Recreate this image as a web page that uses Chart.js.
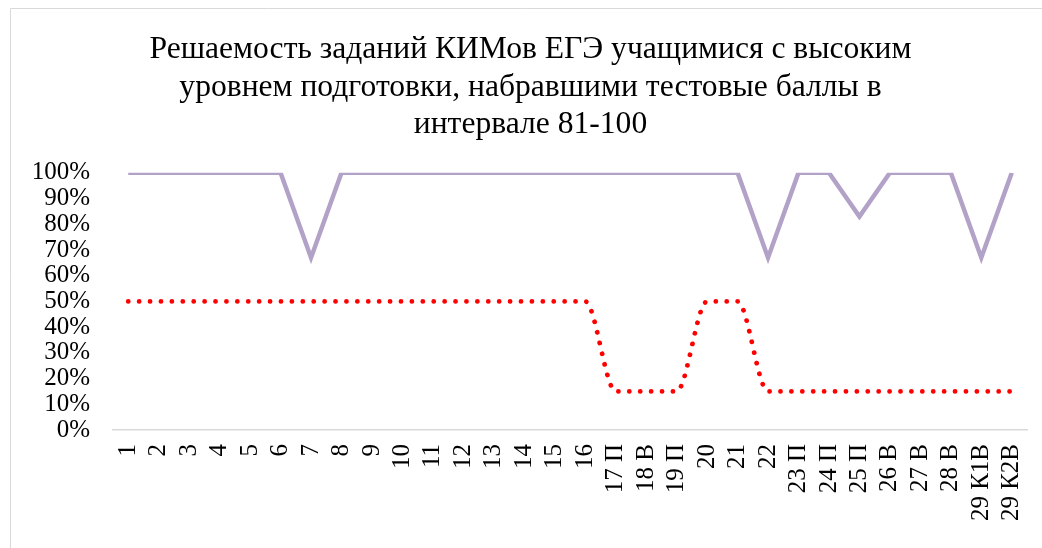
<!DOCTYPE html>
<html>
<head>
<meta charset="utf-8">
<script src="https://cdn.jsdelivr.net/npm/chart.js@4/dist/chart.umd.min.js"></script>
<style>
  html, body { margin: 0; padding: 0; background: #ffffff; }
  #wrap { width: 1042px; height: 548px; position: relative; }
</style>
</head>
<body>
<div id="wrap"><canvas id="c" width="1042" height="548"></canvas></div>
<script>
const categories = ['1','2','3','4','5','6','7','8','9','10','11','12','13','14','15','16',
  '17 П','18 В','19 П','20','21','22','23 П','24 П','25 П','26 В','27 В','28 В','29 К1В','29 К2В'];
const highLevel = [100,100,100,100,100,100,67,100,100,100,100,100,100,100,100,100,
  100,100,100,100,100,67,100,100,83,100,100,100,67,100];
const baseLevel = [50,50,50,50,50,50,50,50,50,50,50,50,50,50,50,50,
  15,15,15,50,50,15,15,15,15,15,15,15,15,15];
const titleLines = ['Решаемость заданий КИМов ЕГЭ учащимися с высоким',
  'уровнем подготовки, набравшими тестовые баллы в', 'интервале 81-100'];
const yTicks = [0,10,20,30,40,50,60,70,80,90,100];

const frame = {
  id: 'frame',
  beforeDraw(chart) {
    const ctx = chart.ctx;
    ctx.save();
    ctx.fillStyle = '#ffffff';
    ctx.fillRect(0, 0, chart.width, chart.height);
    ctx.strokeStyle = '#d9d9d9';
    ctx.lineWidth = 1;
    ctx.beginPath();
    ctx.moveTo(10.5, chart.height);
    ctx.lineTo(10.5, 8.5);
    ctx.lineTo(chart.width, 8.5);
    ctx.stroke();
    ctx.restore();
  }
};

new Chart(document.getElementById('c'), {
  type: 'line',
  data: {
    labels: categories,
    datasets: [
      {
        label: 'высокий',
        data: highLevel,
        borderColor: '#b3a2c7',
        borderWidth: 4.5,
        pointRadius: 0,
        tension: 0,
        fill: false,
        borderJoinStyle: 'miter'
      },
      {
        label: 'базовый',
        data: baseLevel,
        borderColor: '#ff0000',
        borderWidth: 4.8,
        borderDash: [0.01, 10.9],
        borderCapStyle: 'round',
        pointRadius: 0,
        cubicInterpolationMode: 'monotone',
        fill: false
      }
    ]
  },
  options: {
    responsive: false,
    animation: false,
    layout: { padding: { left: 34, right: 15, top: 10, bottom: 0 } },
    plugins: {
      legend: { display: false },
      tooltip: { enabled: false },
      title: {
        display: true,
        text: titleLines,
        color: '#000000',
        font: { family: '"Liberation Serif", "Times New Roman", serif', size: 31.6, weight: 'normal', lineHeight: 1.19 },
        padding: { top: 21, bottom: 29 }
      }
    },
    scales: {
      x: {
        offset: true,
        grid: { display: false, drawTicks: false },
        border: { display: true, color: '#d9d9d9', width: 1.5 },
        ticks: {
          autoSkip: false,
          minRotation: 90,
          maxRotation: 90,
          padding: 14,
          color: '#000000',
          font: { family: '"Liberation Serif", "Times New Roman", serif', size: 25 }
        },
        afterFit(s) { s.height = 118; s.paddingLeft = 0; s.paddingRight = 0; }
      },
      y: {
        min: 0,
        max: 100,
        grid: { display: false, drawTicks: false },
        border: { display: false },
        afterBuildTicks(s) { s.ticks = yTicks.map(v => ({ value: v })); },
        ticks: {
          autoSkip: false,
          stepSize: 10,
          padding: 23,
          color: '#000000',
          font: { family: '"Liberation Serif", "Times New Roman", serif', size: 25, lineHeight: 1 },
          callback: v => v + '%'
        },
        afterFit(s) { s.width = 79; s.paddingTop = 0; s.paddingBottom = 0; }
      }
    }
  },
  plugins: [frame]
});
</script>
</body>
</html>
